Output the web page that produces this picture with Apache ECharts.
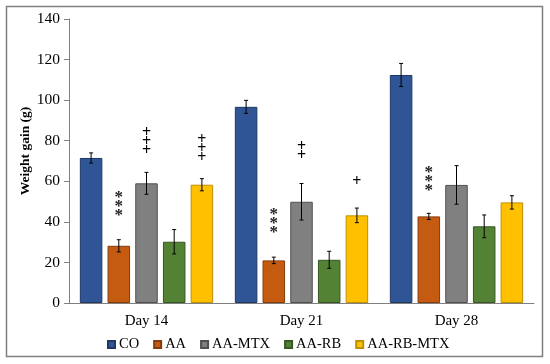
<!DOCTYPE html>
<html><head><meta charset="utf-8">
<script src="https://cdn.jsdelivr.net/npm/echarts@6/dist/echarts.min.js"></script>
<style>html,body{margin:0;padding:0;background:#fff}#c{width:550px;height:364px}</style>
</head><body><div id="c"></div>
<script>
var categories = ['Day 14', 'Day 21', 'Day 28'];
var seriesNames = ['CO', 'AA', 'AA-MTX', 'AA-RB', 'AA-RB-MTX'];
var coValues = [71.5, 96.7, 112.4];
var aaValues = [28.2, 21.0, 42.7];
var aaMtxValues = [59.0, 49.9, 58.2];
var aaRbValues = [30.2, 21.3, 37.8];
var aaRbMtxValues = [58.3, 43.2, 49.6];
var coErr = [2.5, 3.2, 5.7];
var aaErr = [3.0, 1.6, 1.5];
var aaMtxErr = [5.4, 9.0, 9.5];
var aaRbErr = [6.0, 4.2, 5.6];
var aaRbMtxErr = [3.0, 3.6, 3.3];
var yTicks = [0, 20, 40, 60, 80, 100, 120, 140];
var annotSeries = [1, 2, 4, 1, 2, 4, 1];
var annotCategory = [0, 0, 0, 1, 1, 1, 2];
var annotY = [49.8, 79.3, 76.2, 41.4, 74.6, 59.6, 62.2];
var annotText = ['***', '+++', '+++', '***', '++', '+', '***'];

var colors = ['#2F5597', '#C55A11', '#808080', '#548235', '#FFC000'];
var borders = ['#1F3864', '#843C0C', '#505050', '#385723', '#BF9000'];
var allValues = [coValues, aaValues, aaMtxValues, aaRbValues, aaRbMtxValues];
var allErr = [coErr, aaErr, aaMtxErr, aaRbErr, aaRbMtxErr];
var CAT_GAP = 0.14, BAR_GAP = 0.23, N = 5;
var FONT = '"Liberation Serif", "Times New Roman", serif';

function barOffset(bandWidth, i) {
  var usable = bandWidth * (1 - CAT_GAP);
  var w = usable / (N + (N - 1) * BAR_GAP);
  return -usable / 2 + i * w * (1 + BAR_GAP) + w / 2;
}

var series = [];
seriesNames.forEach(function (name, i) {
  series.push({
    name: name, type: 'bar', data: allValues[i],
    barGap: (BAR_GAP * 100) + '%', barCategoryGap: (CAT_GAP * 100) + '%',
    itemStyle: { color: colors[i], borderColor: borders[i], borderWidth: 1 },
    emphasis: { disabled: true }, animation: false
  });
});
seriesNames.forEach(function (name, i) {
  var data = categories.map(function (c, k) { return [k, allValues[i][k], allErr[i][k]]; });
  series.push({
    type: 'custom', data: data, silent: true, animation: false, z: 5,
    renderItem: function (params, api) {
      var k = api.value(0), v = api.value(1), e = api.value(2);
      var bw = api.size([1, 0])[0];
      var off = barOffset(bw, i);
      var top = api.coord([k, v + e]), bot = api.coord([k, v - e]);
      var x = top[0] + off;
      var cap = 2;
      var st = { stroke: '#000', lineWidth: 1 };
      return { type: 'group', children: [
        { type: 'line', shape: { x1: x, y1: top[1], x2: x, y2: bot[1] }, style: st },
        { type: 'line', shape: { x1: x - cap, y1: top[1], x2: x + cap, y2: top[1] }, style: st },
        { type: 'line', shape: { x1: x - cap, y1: bot[1], x2: x + cap, y2: bot[1] }, style: st }
      ]};
    }
  });
});
series.push({
  type: 'custom', silent: true, animation: false, z: 6,
  data: annotY.map(function (y, j) { return [annotCategory[j], y]; }),
  renderItem: function (params, api) {
    var j = params.dataIndex;
    var p = api.coord([api.value(0), api.value(1)]);
    var bw = api.size([1, 0])[0];
    var x = p[0] + barOffset(bw, annotSeries[j]);
    var chars = annotText[j].split('');
    var n = chars.length, step = 9;
    var isStar = chars[0] === '*';
    var children = chars.map(function (ch, m) {
      return { type: 'text', style: {
        text: ch, x: x, y: p[1] + (m - (n - 1) / 2) * step + (isStar ? 5 : 0),
        align: 'center', verticalAlign: 'middle',
        font: (isStar ? 'bold 17px ' : 'bold 16px ') + FONT, fill: isStar ? '#222' : '#000'
      }};
    });
    return { type: 'group', children: children };
  }
});

var chart = echarts.init(document.getElementById('c'), null, { renderer: 'canvas' });
chart.setOption({
  animation: false,
  graphic: [{ type: 'rect', shape: { x: 6.5, y: 6.5, width: 536, height: 350 },
    style: { fill: 'none', stroke: '#7f7f7f', lineWidth: 1.5 }, z: 0 }],
  grid: { left: 69, right: 16, top: 19, bottom: 61, containLabel: false },
  legend: {
    data: seriesNames, bottom: 12, left: 107, icon: 'rect', itemWidth: 7, itemHeight: 7,
    itemGap: 14, padding: 0,
    textStyle: { fontFamily: FONT, fontSize: 14.5, color: '#000', padding: [0, 0, 0, -1] }, selectedMode: false
  },
  xAxis: {
    type: 'category', data: categories,
    axisLine: { lineStyle: { color: '#808080', width: 1 } }, axisTick: { show: false },
    axisLabel: { fontFamily: FONT, fontSize: 15, color: '#000', margin: 11 }
  },
  yAxis: {
    type: 'value', min: yTicks[0], max: yTicks[yTicks.length - 1], interval: 20,
    name: 'Weight gain (g)', nameLocation: 'middle', nameGap: 36, nameMoveOverlap: false,
    nameTextStyle: { fontFamily: FONT, fontSize: 13.5, fontWeight: 'bold', color: '#000', padding: [0, 0, 0, 20] },
    axisLine: { show: true, lineStyle: { color: '#808080' } },
    axisTick: { show: true, length: 5, lineStyle: { color: '#808080' } },
    splitLine: { show: false },
    axisLabel: { fontFamily: FONT, fontSize: 15.5, color: '#000', margin: 9 }
  },
  series: series
});
</script></body></html>
